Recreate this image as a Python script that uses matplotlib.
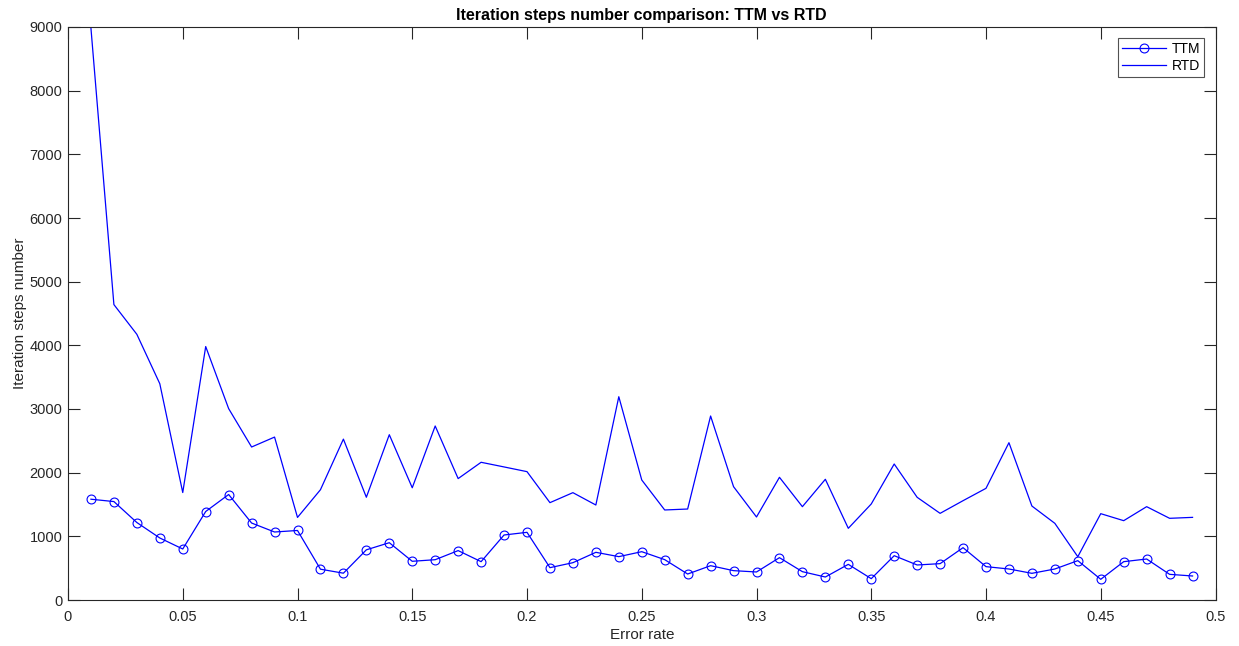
import matplotlib
matplotlib.use("Agg")
import matplotlib.pyplot as plt
from matplotlib.ticker import FuncFormatter, MultipleLocator

plt.rcParams['font.family'] = ['Liberation Sans', 'DejaVu Sans']

error_rate = [round(0.01 * i, 2) for i in range(1, 50)]

ttm = [1583, 1546, 1217, 974, 801, 1390, 1657, 1209, 1068, 1092,
       484, 421, 788, 900, 608, 633, 776, 602, 1021, 1063,
       508, 586, 749, 681, 759, 634, 408, 539, 461, 440,
       665, 445, 361, 560, 335, 696, 550, 571, 822, 524,
       487, 419, 487, 618, 325, 602, 644, 403, 377]

rtd = [8980, 4640, 4173, 3397, 1688, 3981, 3006, 2403, 2559, 1297,
       1732, 2527, 1614, 2596, 1763, 2733, 1907, 2163, 2090, 2016,
       1529, 1686, 1492, 3193, 1885, 1414, 1429, 2890, 1780, 1304,
       1927, 1466, 1896, 1126, 1508, 2136, 1613, 1361, 1560, 1754,
       2471, 1476, 1204, 680, 1356, 1246, 1466, 1283, 1298]

title = "Iteration steps number comparison: TTM vs RTD"
xlabel = "Error rate"
ylabel = "Iteration steps number"

fig = plt.figure(figsize=(12.39, 6.46), dpi=100)
ax = fig.add_axes([68 / 1239, 46 / 646, (1215.5 - 68) / 1239, (600 - 27) / 646])

ax.plot(error_rate, ttm, color=(0, 0, 1), lw=0.9, marker='o', markersize=6.4,
        markerfacecolor='none', markeredgewidth=0.8, label='TTM')
ax.plot(error_rate, rtd, color=(0, 0, 1), lw=0.9, label='RTD')

ax.set_xlim(0, 0.5)
ax.set_ylim(0, 9000)
ax.xaxis.set_major_locator(MultipleLocator(0.05))
ax.yaxis.set_major_locator(MultipleLocator(1000))
ax.xaxis.set_major_formatter(FuncFormatter(lambda v, p: f"{v:g}"))
ax.yaxis.set_major_formatter(FuncFormatter(lambda v, p: f"{v:g}"))

dark = (0.15, 0.15, 0.15)
ax.tick_params(direction='in', top=True, right=True, length=8.5, width=0.8,
               colors=dark, labelsize=10.5, labelcolor=dark)
ax.tick_params(axis='x', pad=7)
ax.tick_params(axis='y', pad=4)
for s in ax.spines.values():
    s.set_color(dark)
    s.set_linewidth(0.8)

ax.set_title(title, fontsize=11.5, fontweight='bold', color='black', pad=5)
ax.set_xlabel(xlabel, fontsize=11, color=dark, labelpad=3)
ax.set_ylabel(ylabel, fontsize=11, color=dark, labelpad=2)

leg = ax.legend(loc='upper right', fontsize=10, frameon=True, fancybox=False,
                edgecolor=dark, borderaxespad=0.8, handlelength=3.2,
                borderpad=0.3, labelspacing=0.2, handletextpad=0.4)
leg.get_frame().set_linewidth(0.8)

fig.savefig("out.png", dpi=100, facecolor='white')
